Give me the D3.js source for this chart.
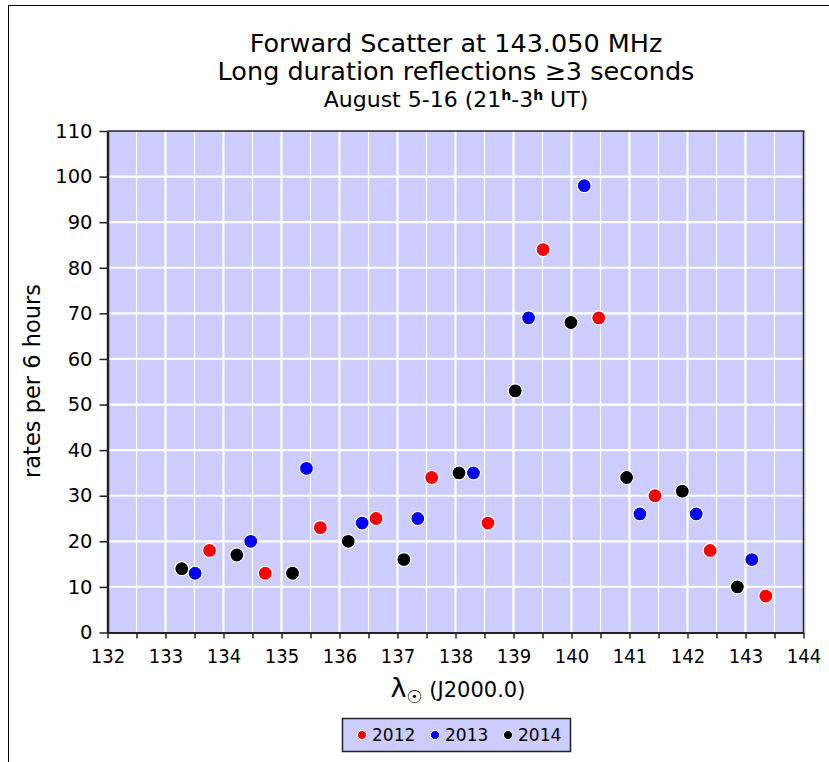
<!DOCTYPE html>
<html>
<head>
<meta charset="utf-8">
<script src="https://cdn.jsdelivr.net/npm/d3@7/dist/d3.min.js"></script>
<style>
  html, body { margin: 0; padding: 0; background: #fff; }
  svg { display: block; font-family: "DejaVu Sans", Verdana, sans-serif; }
</style>
</head>
<body>
<svg id="chart" width="829" height="762"></svg>
<script>
// Long-duration forward-scatter reflections, by year
const lambda2012 = [133.76, 134.72, 135.67, 136.63, 137.59, 138.56, 139.51, 140.47, 141.44, 142.39, 143.35];
const rates2012  = [18, 13, 23, 25, 34, 24, 84, 69, 30, 18, 8];

const lambda2013 = [133.51, 134.47, 135.43, 136.39, 137.35, 138.31, 139.26, 140.22, 141.18, 142.15, 143.11];
const rates2013  = [13, 20, 36, 24, 25, 35, 69, 98, 26, 26, 16];

const lambda2014 = [133.28, 134.23, 135.19, 136.15, 137.11, 138.06, 139.03, 139.99, 140.95, 141.91, 142.86];
const rates2014  = [14, 17, 13, 20, 16, 35, 53, 68, 34, 31, 10];

const years = ["2012", "2013", "2014"];
const yearColors = ["#ff0000", "#0000ff", "#000000"];

const xMinorTicks = d3.range(132, 144.01, 0.5);
const yTicks = d3.range(0, 110.01, 10);

const svg = d3.select("#chart");
const plot = { left: 107.5, right: 803.5, top: 131, bottom: 632.5 };

const x = d3.scaleLinear().domain([132, 144]).range([plot.left, plot.right]);
const y = d3.scaleLinear().domain([0, 110]).range([plot.bottom, plot.top]);

// outer frame (only left and top edges fall inside the page)
svg.append("rect")
  .attr("x", 8.5).attr("y", 5.5).attr("width", 840).attr("height", 800)
  .attr("fill", "none").attr("stroke", "#000").attr("stroke-width", 1);

// titles
const title = svg.append("g").attr("text-anchor", "middle").attr("fill", "#000");
title.append("text").attr("x", 456).attr("y", 52).style("font-size", "25.5px")
  .text("Forward Scatter at 143.050 MHz");
title.append("text").attr("x", 456).attr("y", 80).style("font-size", "25.5px")
  .text("Long duration reflections \u22653 seconds");
const sub = title.append("text").attr("x", 456).attr("y", 107).style("font-size", "22px");
sub.append("tspan").text("August 5-16 (21");
sub.append("tspan").attr("dy", -7).style("font-size", "14px").attr("font-weight", "bold").text("h");
sub.append("tspan").attr("dy", 7).text("-3");
sub.append("tspan").attr("dy", -7).style("font-size", "14px").attr("font-weight", "bold").text("h");
sub.append("tspan").attr("dy", 7).text(" UT)");

// plot background
svg.append("rect")
  .attr("x", plot.left).attr("y", plot.top)
  .attr("width", plot.right - plot.left).attr("height", plot.bottom - plot.top)
  .attr("fill", "#ccccff");

// grid: vertical lines every 0.5, heavier on whole degrees; horizontal every 10
const grid = svg.append("g");
grid.selectAll("line.vx").data(xMinorTicks.filter(d => d > 132 && d < 144)).join("line")
  .attr("x1", d => x(d)).attr("x2", d => x(d))
  .attr("y1", plot.top).attr("y2", plot.bottom)
  .attr("stroke", "#fff")
  .attr("stroke-width", d => Number.isInteger(d) ? 2.2 : 1.2);
grid.selectAll("line.hy").data(yTicks.filter(d => d > 0 && d < 110)).join("line")
  .attr("x1", plot.left).attr("x2", plot.right)
  .attr("y1", d => y(d)).attr("y2", d => y(d))
  .attr("stroke", "#fff").attr("stroke-width", 2.2);

// plot frame: top and right edges
svg.append("line").attr("x1", plot.left).attr("x2", plot.right + 1)
  .attr("y1", plot.top).attr("y2", plot.top).attr("stroke", "#222").attr("stroke-width", 1.5);
svg.append("line").attr("x1", plot.right).attr("x2", plot.right)
  .attr("y1", plot.top).attr("y2", plot.bottom).attr("stroke", "#222").attr("stroke-width", 1.5);
svg.append("line").attr("x1", plot.right + 1.5).attr("x2", plot.right + 1.5)
  .attr("y1", plot.top + 1).attr("y2", plot.bottom).attr("stroke", "#bbb").attr("stroke-width", 1);

// axes
const xAxis = svg.append("g").attr("transform", `translate(0,${plot.bottom})`)
  .call(d3.axisBottom(x).tickValues(xMinorTicks).tickSize(6).tickSizeOuter(0)
    .tickFormat(d => Number.isInteger(d) ? d3.format("d")(d) : ""));
xAxis.attr("font-size", null).attr("font-family", null);
xAxis.select(".domain").attr("stroke", "#222").attr("stroke-width", 2);
xAxis.selectAll(".tick line").attr("stroke", "#222").attr("stroke-width", 1.5);
xAxis.selectAll(".tick text")
  .attr("font-size", 20).attr("font-family", "'DejaVu Sans Condensed', 'DejaVu Sans', sans-serif")
  .attr("fill", "#000").attr("dy", "1.05em");

const yAxis = svg.append("g").attr("transform", `translate(${plot.left},0)`)
  .call(d3.axisLeft(y).tickValues(yTicks).tickSize(8).tickSizeOuter(0).tickFormat(d3.format("d")));
yAxis.attr("font-size", null).attr("font-family", null);
yAxis.select(".domain").attr("stroke", "#222").attr("stroke-width", 2.5);
yAxis.selectAll(".tick line").attr("stroke", "#222").attr("stroke-width", 1.5);
yAxis.selectAll(".tick text")
  .attr("font-size", 19.5).attr("font-family", "'DejaVu Sans', sans-serif")
  .attr("fill", "#000").attr("x", -15);

// axis titles
svg.append("text")
  .attr("transform", "translate(40,381) rotate(-90)")
  .attr("text-anchor", "middle").style("font-size", "22.5px").attr("fill", "#000")
  .text("rates per 6 hours");

const xl = svg.append("text").attr("x", 458).attr("y", 697)
  .attr("text-anchor", "middle").style("font-size", "21px").attr("fill", "#000");
xl.append("tspan").style("font-size", "27px").text("\u03bb");
xl.append("tspan").attr("dy", 6).style("font-size", "18px").text("\u2609");
xl.append("tspan").attr("dy", -6).text(" (J2000.0)");

// data points
const series = [
  { year: years[0], xs: lambda2012, ys: rates2012, color: yearColors[0] },
  { year: years[1], xs: lambda2013, ys: rates2013, color: yearColors[1] },
  { year: years[2], xs: lambda2014, ys: rates2014, color: yearColors[2] }
];
const pts = svg.append("g");
series.forEach(s => {
  pts.selectAll(null).data(s.xs.map((v, i) => [v, s.ys[i]])).join("circle")
    .attr("cx", d => x(d[0])).attr("cy", d => y(d[1]))
    .attr("r", 7).attr("fill", s.color)
    .attr("stroke", "#fff").attr("stroke-width", 1.2);
});

// legend
const lg = svg.append("g").attr("transform", "translate(342,718)");
lg.append("rect").attr("x", 0.5).attr("y", 0.5).attr("width", 228).attr("height", 33)
  .attr("fill", "#ccccff").attr("stroke", "#222").attr("stroke-width", 1.5);
const itemX = [20, 93, 166];
series.forEach((s, i) => {
  lg.append("circle").attr("cx", itemX[i]).attr("cy", 17).attr("r", 4.5)
    .attr("fill", s.color).attr("stroke", "#fff").attr("stroke-width", 1);
  lg.append("text").attr("x", itemX[i] + 10).attr("y", 23).style("font-size", "17px")
    .attr("fill", "#000").text(s.year);
});
</script>
</body>
</html>
